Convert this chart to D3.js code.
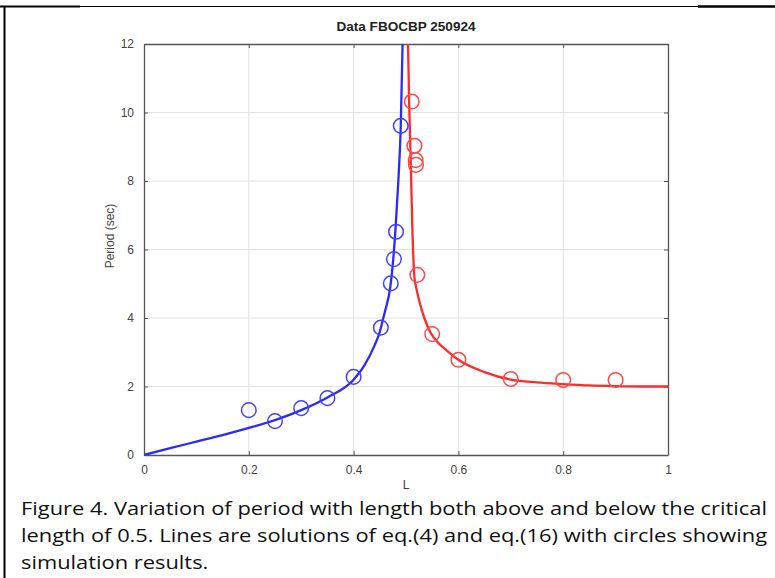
<!DOCTYPE html>
<html>
<head>
<meta charset="utf-8">
<script src="https://cdn.jsdelivr.net/npm/d3@7"></script>
<style>
  body { margin: 0; background: #fff; }
  svg { display: block; }
</style>
</head>
<body>
<svg width="775" height="578"></svg>
<script>
// values
let titleText = 'Data FBOCBP 250924';
let xLabel = 'L';
let yLabel = 'Period (sec)';
let xTicks = [0, 0.2, 0.4, 0.6, 0.8, 1];
let yTicks = [0, 2, 4, 6, 8, 10, 12];

// theory line below critical length (blue)
let belowLineL = [0, 0.05, 0.1, 0.15, 0.2, 0.25, 0.3, 0.35, 0.4, 0.42, 0.44, 0.45, 0.455, 0.46, 0.47, 0.475, 0.48, 0.485, 0.49, 0.4935, 0.495];
let belowLineP = [0, 0.2, 0.39, 0.58, 0.79, 1.02, 1.31, 1.68, 2.2, 2.6, 3.2, 3.6, 3.9, 4.2, 4.9, 5.6, 6.6, 7.9, 9.6, 12, 13.5];
// theory line above critical length (red)
let aboveLineL = [0.503, 0.5045, 0.506, 0.509, 0.512, 0.516, 0.52, 0.527, 0.535, 0.546, 0.56, 0.578, 0.6, 0.65, 0.7, 0.75, 0.8, 0.85, 0.9, 0.95, 1];
let aboveLineP = [12.5, 11.5, 10.3, 8.6, 6.7, 5.2, 4.85, 4.4, 4.0, 3.6, 3.3, 3.05, 2.78, 2.42, 2.2, 2.12, 2.07, 2.03, 2.01, 2.0, 2.0];

// simulation results (circles)
let simBelowL = [0.2, 0.25, 0.3, 0.35, 0.4, 0.452, 0.471, 0.477, 0.481, 0.49];
let simBelowP = [1.31, 0.99, 1.37, 1.66, 2.28, 3.72, 5.01, 5.72, 6.52, 9.61];
let simAboveL = [0.511, 0.516, 0.5185, 0.519, 0.5216, 0.55, 0.6, 0.7, 0.8, 0.9];
let simAboveP = [10.32, 9.03, 8.61, 8.47, 5.26, 3.53, 2.78, 2.22, 2.19, 2.19];

let captionLines = [
  'Figure 4. Variation of period with length both above and below the critical',
  'length of 0.5. Lines are solutions of eq.(4) and eq.(16) with circles showing',
  'simulation results.'
];

let svg = d3.select('svg');
let plotLeft = 144, plotRight = 668, plotTop = 44, plotBottom = 455;
let font = 'Liberation Sans, Arial, sans-serif';

let x = d3.scaleLinear().domain([0, 1]).range([plotLeft, plotRight]);
let y = d3.scaleLinear().domain([0, 12]).range([plotBottom, plotTop]);

let zip = (a, b) => a.map((v, i) => ({L: v, P: b[i]}));

// page frame
svg.append('line').attr('x1', 0).attr('x2', 775).attr('y1', 6.5).attr('y2', 6.5)
  .attr('stroke', '#000').attr('stroke-width', 1.2);
svg.append('line').attr('x1', 0).attr('x2', 80).attr('y1', 6.5).attr('y2', 6.5)
  .attr('stroke', '#000').attr('stroke-width', 2.2);
svg.append('line').attr('x1', 698).attr('x2', 775).attr('y1', 6.5).attr('y2', 6.5)
  .attr('stroke', '#000').attr('stroke-width', 2.4);
svg.append('line').attr('x1', 4.5).attr('x2', 4.5).attr('y1', 6).attr('y2', 578)
  .attr('stroke', '#000').attr('stroke-width', 2);

// grid
let grid = svg.append('g').attr('stroke', '#e2e2e2').attr('stroke-width', 1);
grid.selectAll('.gx').data(xTicks.slice(1, -1)).enter().append('line')
  .attr('x1', d => x(d)).attr('x2', d => x(d)).attr('y1', plotTop).attr('y2', plotBottom);
grid.selectAll('.gy').data(yTicks.slice(1, -1)).enter().append('line')
  .attr('y1', d => y(d)).attr('y2', d => y(d)).attr('x1', plotLeft).attr('x2', plotRight);

// axes (ticks inward, box on all sides)
let axisColor = '#555';
let fmt = d => d3.format('')(d);
let xAxis = svg.append('g').attr('transform', `translate(0,${plotBottom})`)
  .call(d3.axisBottom(x).tickValues(xTicks).tickSizeInner(-4).tickSizeOuter(0).tickPadding(10).tickFormat(fmt));
let xTop = svg.append('g').attr('transform', `translate(0,${plotTop})`)
  .call(d3.axisTop(x).tickValues(xTicks).tickSizeInner(-4).tickSizeOuter(0).tickFormat(''));
let yAxis = svg.append('g').attr('transform', `translate(${plotLeft},0)`)
  .call(d3.axisLeft(y).tickValues(yTicks).tickSizeInner(-4).tickSizeOuter(0).tickPadding(10).tickFormat(fmt));
let yRight = svg.append('g').attr('transform', `translate(${plotRight},0)`)
  .call(d3.axisRight(y).tickValues(yTicks).tickSizeInner(-4).tickSizeOuter(0).tickFormat(''));

[xAxis, xTop, yAxis, yRight].forEach(g => {
  g.select('.domain').attr('stroke', axisColor).attr('stroke-width', 1.3);
  g.selectAll('.tick line').attr('stroke', axisColor);
  g.selectAll('text').attr('fill', '#444')
    .style('font-family', font).style('font-size', '12px');
});

// lines
svg.append('clipPath').attr('id', 'plotclip').append('rect')
  .attr('x', plotLeft).attr('y', plotTop).attr('width', plotRight - plotLeft).attr('height', plotBottom - plotTop);

let line = d3.line().curve(d3.curveMonotoneX).x(d => x(d.L)).y(d => y(d.P));

let plot = svg.append('g').attr('clip-path', 'url(#plotclip)');
plot.append('path').attr('d', line(zip(belowLineL, belowLineP)))
  .attr('fill', 'none').attr('stroke', '#2a2aff').attr('stroke-width', 2.3);
plot.append('path').attr('d', line(zip(aboveLineL, aboveLineP)))
  .attr('fill', 'none').attr('stroke', '#ff2a2a').attr('stroke-width', 2.3);

svg.append('g').selectAll('circle').data(zip(simBelowL, simBelowP)).enter().append('circle')
  .attr('cx', d => x(d.L)).attr('cy', d => y(d.P)).attr('r', 7.3)
  .attr('fill', 'none').attr('stroke', '#4040ff').attr('stroke-width', 1.5);
svg.append('g').selectAll('circle').data(zip(simAboveL, simAboveP)).enter().append('circle')
  .attr('cx', d => x(d.L)).attr('cy', d => y(d.P)).attr('r', 7.3)
  .attr('fill', 'none').attr('stroke', '#ff4848').attr('stroke-width', 1.5);

// title and labels
svg.append('text').text(titleText)
  .attr('x', (plotLeft + plotRight) / 2).attr('y', 31).attr('text-anchor', 'middle')
  .attr('textLength', 139).attr('lengthAdjust', 'spacingAndGlyphs')
  .style('font-family', font).style('font-size', '12px')
  .style('font-weight', 'bold').attr('fill', '#222');
svg.append('text').text(xLabel)
  .attr('x', (plotLeft + plotRight) / 2).attr('y', 489).attr('text-anchor', 'middle')
  .style('font-family', font).style('font-size', '12px').attr('fill', '#444');
svg.append('text').text(yLabel)
  .attr('transform', 'translate(114,236) rotate(-90)').attr('text-anchor', 'middle')
  .style('font-family', font).style('font-size', '12px').attr('fill', '#444');

// caption: first two lines justified, glyphs stretched like the source
let capLeft = 21, capRight = 767;
let baselines = [515, 542, 569];
let capTexts = captionLines.map((t, i) => svg.append('text').text(t)
  .attr('x', capLeft).attr('y', baselines[i])
  .style('font-family', 'Open Sans, sans-serif').style('font-size', '19px').attr('fill', '#111'));
let ratio = (capRight - capLeft) / capTexts[0].node().getComputedTextLength();
capTexts.forEach((txt, i) => {
  let w = txt.node().getComputedTextLength();
  let target = i < captionLines.length - 1 ? capRight - capLeft : w * ratio;
  txt.attr('textLength', target).attr('lengthAdjust', 'spacingAndGlyphs');
});
</script>
</body>
</html>
